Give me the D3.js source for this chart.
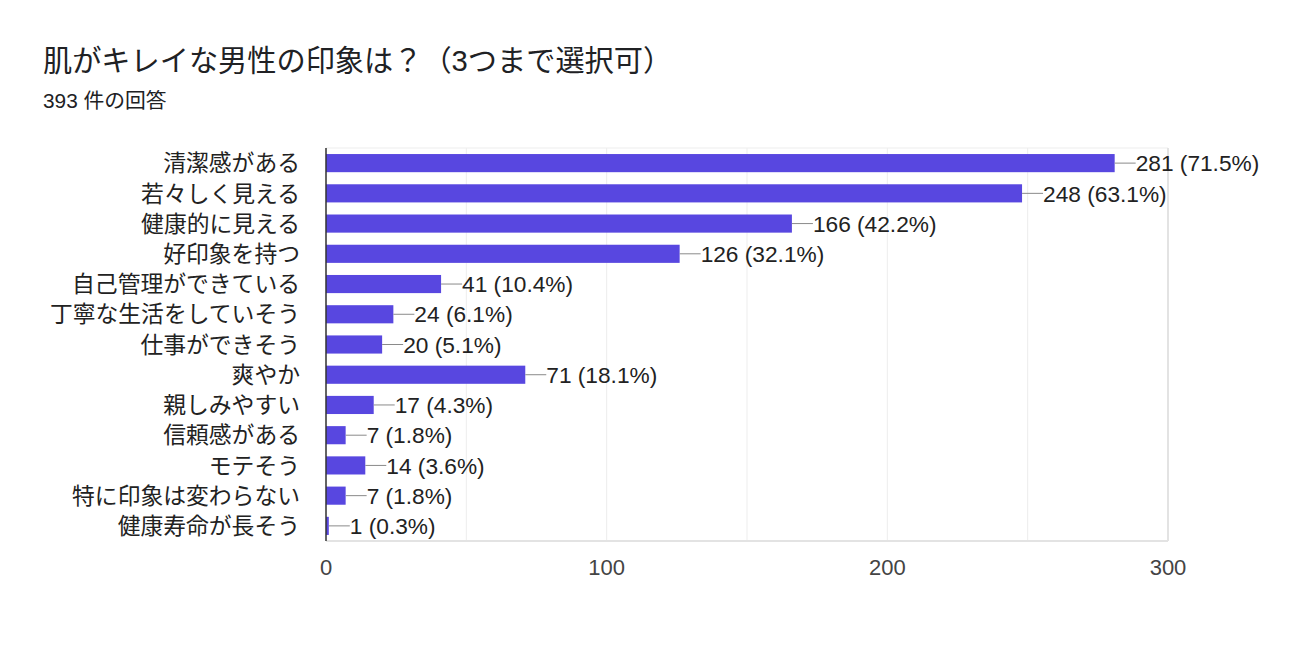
<!DOCTYPE html>
<html><head><meta charset="utf-8">
<script src="https://cdn.jsdelivr.net/npm/d3@7"></script>
<style>
body{margin:0;background:#fff;}
svg{display:block;}
text{font-family:"Liberation Sans",Arial,"Noto Sans CJK JP",sans-serif;}
</style></head>
<body>
<svg id="c" width="1299" height="653"></svg>
<script>
const title = "肌がキレイな男性の印象は？（3つまで選択可）";
const subtitle = "393 件の回答";
const categories = ["清潔感がある","若々しく見える","健康的に見える","好印象を持つ","自己管理ができている","丁寧な生活をしていそう","仕事ができそう","爽やか","親しみやすい","信頼感がある","モテそう","特に印象は変わらない","健康寿命が長そう"];
const counts = [281,248,166,126,41,24,20,71,17,7,14,7,1];
const percents = ["71.5%","63.1%","42.2%","32.1%","10.4%","6.1%","5.1%","18.1%","4.3%","1.8%","3.6%","1.8%","0.3%"];
const xTicks = [0,100,200,300];
const gridTicks = [0,50,100,150,200,250,300];

const svg = d3.select("#c");
const L = 326, R = 1168, T = 148, B = 541;
const x = d3.scaleLinear().domain([0,300]).range([L,R]);
const y = d3.scaleBand().domain(categories).range([T,B]).paddingInner(0.4).paddingOuter(0.2);
const mixed = "'Liberation Sans','Noto Sans CJK JP',sans-serif";

svg.append("text").attr("x",43).attr("y",71).attr("font-size",29.2).attr("fill","#202124")
  .style("font-family",mixed).text(title);
svg.append("text").attr("x",43).attr("y",108).attr("font-size",20.8).attr("fill","#202124")
  .style("font-family",mixed).text(subtitle);

// grid
svg.append("g").selectAll("line").data(gridTicks).join("line")
  .attr("x1",d=>x(d)).attr("x2",d=>x(d)).attr("y1",T).attr("y2",B)
  .attr("stroke","#ededed").attr("stroke-width",1);
svg.append("line").attr("x1",L).attr("x2",R).attr("y1",T).attr("y2",T).attr("stroke","#ededed");
svg.append("line").attr("x1",L).attr("x2",R).attr("y1",B).attr("y2",B).attr("stroke","#e3e3e3").attr("stroke-width",2);
svg.append("line").attr("x1",R).attr("x2",R).attr("y1",T).attr("y2",B).attr("stroke","#e3e3e3").attr("stroke-width",2);

// bars
svg.append("g").selectAll("rect").data(categories).join("rect")
  .attr("x",x(0)).attr("y",d=>y(d)).attr("width",(d,i)=>x(counts[i])-x(0)).attr("height",y.bandwidth())
  .attr("fill","#5847e0");

// zero axis
svg.append("line").attr("x1",L).attr("x2",L).attr("y1",T).attr("y2",B).attr("stroke","#333").attr("stroke-width",1.5);

// leader lines and labels
const g = svg.append("g");
categories.forEach((c,i)=>{
  const cy = y(c)+y.bandwidth()/2;
  const xe = x(counts[i]);
  g.append("line").attr("x1",xe).attr("x2",xe+21).attr("y1",cy).attr("y2",cy).attr("stroke","#8a8a8a").attr("stroke-width",1);
  g.append("text").attr("x",xe+21).attr("y",cy).attr("dy","0.36em").attr("font-size",22.7).attr("fill","#222")
    .text(`${counts[i]} (${percents[i]})`);
  svg.append("text").attr("x",L-26).attr("y",cy).attr("dy","0.36em").attr("text-anchor","end")
    .attr("font-size",22.8).attr("fill","#222").style("font-family","'Noto Sans CJK JP',sans-serif").text(c);
});

// x tick labels
svg.append("g").selectAll("text").data(xTicks).join("text")
  .attr("x",d=>x(d)).attr("y",575).attr("text-anchor","middle").attr("font-size",22).attr("fill","#444")
  .text(d=>d);
</script>
</body></html>
